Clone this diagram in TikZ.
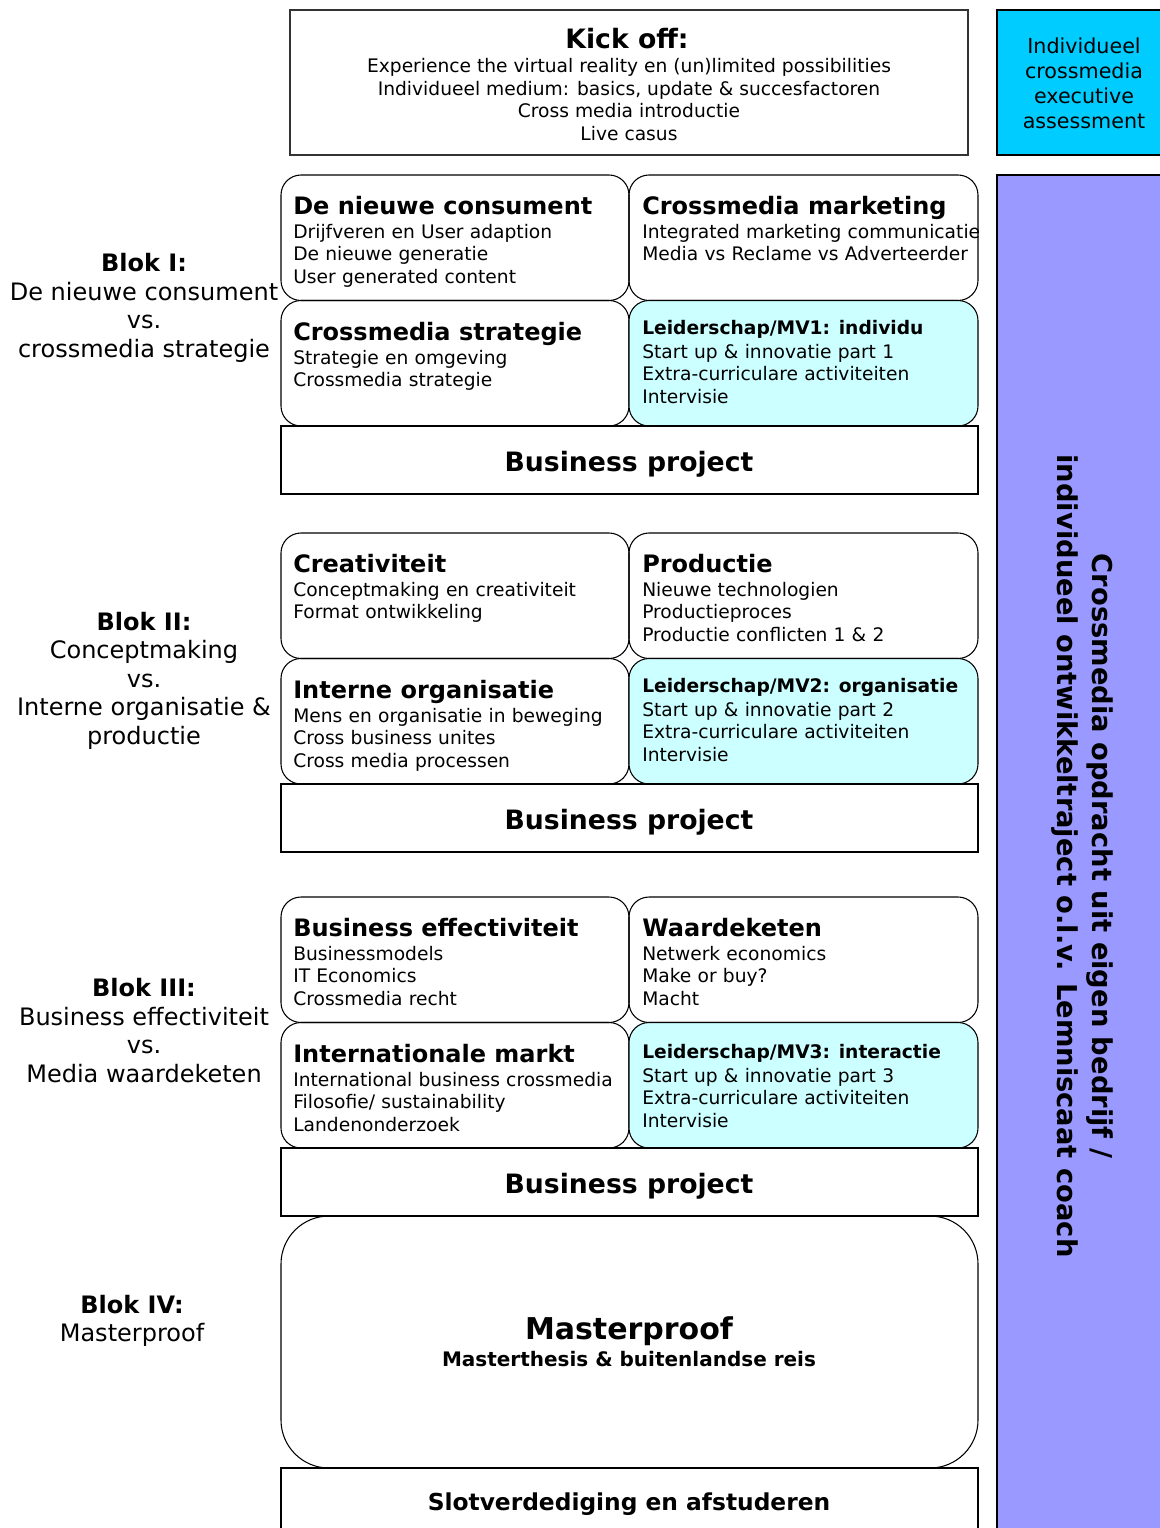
\documentclass[tikz,border=0pt]{standalone}
\usepackage{fontspec}
\setmainfont{DejaVu Sans}
\usetikzlibrary{positioning}
\definecolor{assesscyan}{RGB}{0,204,255}
\definecolor{coachblue}{RGB}{153,153,255}
\definecolor{leadcyan}{RGB}{204,255,255}
\tikzset{cell/.style={draw=black, line width=0.8pt, rounded corners=15pt},
lead/.style={cell, fill=leadcyan},
bar/.style={draw=black, line width=0.8pt, fill=white},
title/.style={anchor=base west, inner sep=0pt, font=\fontsize{18}{21}\selectfont\bfseries},
leadtitle/.style={title, font=\fontsize{14}{17}\selectfont\bfseries},
items/.style={anchor=base west, inner sep=0pt, text width=280pt, align=left,
  font=\fontsize{14}{16.9}\selectfont},
blok/.style={align=center, inner sep=0pt, font=\fontsize{18}{21.4}\selectfont},
project/.style={inner sep=0pt, font=\fontsize{20}{24}\selectfont\bfseries}}

\begin{document}
\begin{tikzpicture}[x=0.75pt, y=-0.75pt]
  \clip (0,0) rectangle (1160,1528);
  \fill[white] (0,0) rectangle (1160,1528);

  % right hand column
  \draw[fill=assesscyan, line width=1.2pt] (997,10) rectangle (1175,155);
  \draw[fill=coachblue, line width=1.2pt] (997,175) rectangle (1175,1540);
  \node (assess) [align=center, font=\fontsize{15.5}{18.75}\selectfont] at (1084,83.5)
    {Individueel\\crossmedia\\executive\\assessment};
  \node (coach) [rotate=-90, align=center, font=\fontsize{20.5}{26.25}\selectfont\bfseries] at (1082,856)
    {Crossmedia opdracht uit eigen bedrijf /\\individueel ontwikkeltraject o.l.v. Lemniscaat coach};

  % kick off
  \draw[draw=black!80, line width=0.8pt] (290,10) rectangle (968,155);
  \node (kick) [inner sep=0pt, font=\fontsize{20}{24}\selectfont\bfseries] at (627,39) {Kick off:};
  \node (kicktxt) [align=center, inner sep=0pt, font=\fontsize{14}{17}\selectfont] at (629,99.5)
    {Experience the virtual reality en (un)limited possibilities\\
     Individueel medium: basics, update \& succesfactoren\\
     Cross media introductie\\Live casus};

  % three blocks of four cells and a business project
  \foreach \t in {175,533,897} {
    \draw[cell] (281,\t) rectangle ++(348,125.5);
    \draw[cell] (629,\t) rectangle ++(349,125.5);
    \draw[cell] (281,\t+125.5) rectangle ++(348,125.5);
    \draw[lead] (629,\t+125.5) rectangle ++(349,125.5);
    \draw[bar] (281,\t+251) rectangle ++(697,68);
    \node (bp\t) [project] at (629,\t+289) {Business project};
  }

  % blok I
  \node (blok1) [blok] at (144,308)
    {\textbf{Blok I:}\\De nieuwe consument\\vs.\\crossmedia strategie};
  \node (cons) [title] at (293,214) {De nieuwe consument};
  \node (constxt) [items] at (293,238)
    {Drijfveren en User adaption\\De nieuwe generatie\\User generated content};
  \node (cmmark) [title] at (642,214) {Crossmedia marketing};
  \node (cmmarktxt) [items] at (642,238)
    {Integrated marketing communicatie\\Media vs Reclame vs Adverteerder};
  \node (cmstrat) [title] at (293,340) {Crossmedia strategie};
  \node (cmstrattxt) [items] at (293,364)
    {Strategie en omgeving\\Crossmedia strategie};
  \node (mv1) [leadtitle] at (642,334) {Leiderschap/MV1: individu};
  \node (mv1txt) [items] at (642,358)
    {Start up \& innovatie part 1\\Extra-curriculare activiteiten\\Intervisie};

  % blok II
  \node (blok2) [blok] at (144,680.5)
    {\textbf{Blok II:}\\Conceptmaking\\vs.\\Interne organisatie \&\\productie};
  \node (creat) [title] at (293,572) {Creativiteit};
  \node (creattxt) [items] at (293,596)
    {Conceptmaking en creativiteit\\Format ontwikkeling};
  \node (prod) [title] at (642,572) {Productie};
  \node (prodtxt) [items] at (642,596)
    {Nieuwe technologien\\Productieproces\\Productie conflicten 1 \& 2};
  \node (intorg) [title] at (293,698) {Interne organisatie};
  \node (intorgtxt) [items] at (293,722)
    {Mens en organisatie in beweging\\Cross business unites\\Cross media processen};
  \node (mv2) [leadtitle] at (642,692) {Leiderschap/MV2: organisatie};
  \node (mv2txt) [items] at (642,716)
    {Start up \& innovatie part 2\\Extra-curriculare activiteiten\\Intervisie};

  % blok III
  \node (blok3) [blok] at (144,1030.5)
    {\textbf{Blok III:}\\Business effectiviteit\\vs.\\Media waardeketen};
  \node (beff) [title] at (293,936) {Business effectiviteit};
  \node (befftxt) [items] at (293,960)
    {Businessmodels\\IT Economics\\Crossmedia recht};
  \node (wketen) [title] at (642,936) {Waardeketen};
  \node (wketentxt) [items] at (642,960)
    {Netwerk economics\\Make or buy?\\Macht};
  \node (intmarkt) [title] at (293,1062) {Internationale markt};
  \node (intmarkttxt) [items] at (293,1086)
    {International business crossmedia\\Filosofie/ sustainability\\Landenonderzoek};
  \node (mv3) [leadtitle] at (642,1058) {Leiderschap/MV3: interactie};
  \node (mv3txt) [items] at (642,1082)
    {Start up \& innovatie part 3\\Extra-curriculare activiteiten\\Intervisie};

  % blok IV
  \node (blok4) [blok] at (132,1321) {\textbf{Blok IV:}\\Masterproof};
  \draw[cell, rounded corners=36pt] (281,1216) rectangle (978,1468);
  \node (master) [inner sep=0pt, font=\fontsize{22.5}{27}\selectfont\bfseries] at (629,1331) {Masterproof};
  \node (mastertxt) [inner sep=0pt, font=\fontsize{15}{18}\selectfont\bfseries] at (629,1359)
    {Masterthesis \& buitenlandse reis};
  \draw[bar] (281,1468) rectangle (978,1540);
  \node (slot) [inner sep=0pt, font=\fontsize{17.5}{21}\selectfont\bfseries] at (629,1504)
    {Slotverdediging en afstuderen};
\end{tikzpicture}
\end{document}
